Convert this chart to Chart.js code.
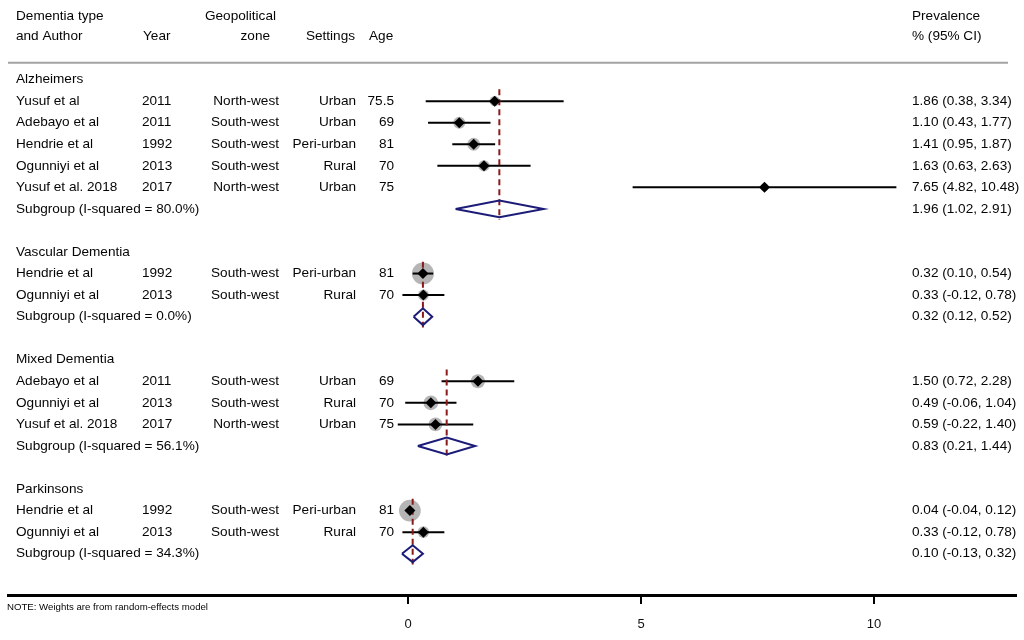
<!DOCTYPE html>
<html>
<head>
<meta charset="utf-8">
<title>Prevalence of dementia types</title>
<script src="https://cdn.jsdelivr.net/npm/chart.js"></script>
<style>
  html, body { margin: 0; padding: 0; background: #fff; }
  canvas { display: block; }
</style>
</head>
<body>
<canvas id="forestPlot" width="1024" height="640"></canvas>
<script>
// subgroups
const groupNames = ['Alzheimers', 'Vascular Dementia', 'Mixed Dementia', 'Parkinsons'];
const subgroupI2 = [80.0, 0.0, 56.1, 34.3];
const subgroupEst = [1.96, 0.32, 0.83, 0.10];
const subgroupLow = [1.02, 0.12, 0.21, -0.13];
const subgroupHigh = [2.91, 0.52, 1.44, 0.32];

// studies, in plot order
const studyGroup = [0, 0, 0, 0, 0, 1, 1, 2, 2, 2, 3, 3];
const authors = ['Yusuf et al', 'Adebayo et al', 'Hendrie et al', 'Ogunniyi et al', 'Yusuf et al. 2018',
                 'Hendrie et al', 'Ogunniyi et al',
                 'Adebayo et al', 'Ogunniyi et al', 'Yusuf et al. 2018',
                 'Hendrie et al', 'Ogunniyi et al'];
const years = ['2011', '2011', '1992', '2013', '2017', '1992', '2013', '2011', '2013', '2017', '1992', '2013'];
const zones = ['North-west', 'South-west', 'South-west', 'South-west', 'North-west',
               'South-west', 'South-west',
               'South-west', 'South-west', 'North-west',
               'South-west', 'South-west'];
const settings = ['Urban', 'Urban', 'Peri-urban', 'Rural', 'Urban',
                  'Peri-urban', 'Rural',
                  'Urban', 'Rural', 'Urban',
                  'Peri-urban', 'Rural'];
const ages = ['75.5', '69', '81', '70', '75', '81', '70', '69', '70', '75', '81', '70'];
const prevalence = [1.86, 1.10, 1.41, 1.63, 7.65, 0.32, 0.33, 1.50, 0.49, 0.59, 0.04, 0.33];
const ciLow = [0.38, 0.43, 0.95, 0.63, 4.82, 0.10, -0.12, 0.72, -0.06, -0.22, -0.04, -0.12];
const ciHigh = [3.34, 1.77, 1.87, 2.63, 10.48, 0.54, 0.78, 2.28, 1.04, 1.40, 0.12, 0.78];
const weights = [18, 24, 27, 21, 10, 80, 20, 33, 36, 31, 78, 22];

const xTicks = [0, 5, 10];

const FONT = '"Liberation Sans", Arial, sans-serif';

// row index for every line of the table
let headRow = [], studyRow = [], subRow = [];
let r = 0;
groupNames.forEach(function(g, gi){
    headRow.push(r++);
    studyGroup.forEach(function(sg, si){
        if(sg == gi) studyRow[si] = r++;
    });
    subRow.push(r);
    r += 2;
});

function fmt(v){ return v.toFixed(2); }
function ciText(e, lo, hi){ return fmt(e) + ' (' + fmt(lo) + ', ' + fmt(hi) + ')'; }

let datasets = [];

prevalence.forEach(function(p, i){
    datasets.push({
        data: [{x: ciLow[i], y: studyRow[i]}, {x: ciHigh[i], y: studyRow[i]}],
        showLine: true, borderColor: '#000', borderWidth: 2, pointRadius: 0, order: 4
    });
});

datasets.push({
    data: prevalence.map(function(p, i){ return {x: p, y: studyRow[i]}; }),
    pointStyle: 'circle',
    pointRadius: weights.map(function(w){ return 1.23 * Math.sqrt(w); }),
    backgroundColor: '#b5b5b5', borderWidth: 0, order: 6
});

datasets.push({
    data: prevalence.map(function(p, i){ return {x: p, y: studyRow[i]}; }),
    pointStyle: 'rectRot', pointRadius: 5.5,
    backgroundColor: '#000', borderWidth: 0, order: 2
});

groupNames.forEach(function(g, gi){
    let y = subRow[gi];
    datasets.push({
        data: [
            {x: subgroupLow[gi], y: y},
            {x: subgroupEst[gi], y: y - 0.39},
            {x: subgroupHigh[gi], y: y},
            {x: subgroupEst[gi], y: y + 0.39},
            {x: subgroupLow[gi], y: y}
        ],
        showLine: true, borderColor: '#1c1c78', borderWidth: 2, pointRadius: 0, order: 1
    });
    datasets.push({
        data: [{x: subgroupEst[gi], y: headRow[gi] + 0.45}, {x: subgroupEst[gi], y: y + 0.5}],
        showLine: true, borderColor: '#8b1a1a', borderWidth: 2, borderDash: [6, 4],
        pointRadius: 0, order: 3
    });
});

const tablePlugin = {
    id: 'tableText',
    afterDraw: function(chart){
        const ctx = chart.ctx;
        const ys = chart.scales.y;
        function put(t, x, row, align){
            ctx.textAlign = align || 'left';
            ctx.fillText(t, x, ys.getPixelForValue(row));
        }
        ctx.save();
        ctx.fillStyle = '#050505';
        ctx.textBaseline = 'middle';
        ctx.font = '13.6px ' + FONT;

        put('Dementia type', 16, -2.94);
        put('and Author', 16, -2.01);
        put('Year', 143, -2.01);
        put('Geopolitical', 276, -2.94, 'right');
        put('zone', 270, -2.01, 'right');
        put('Settings', 355, -2.01, 'right');
        put('Age', 369, -2.01);
        put('Prevalence', 912, -2.94);
        put('% (95% CI)', 912, -2.01);

        let sepY = ys.getPixelForValue(-0.78);
        ctx.strokeStyle = '#a3a3a3';
        ctx.lineWidth = 2;
        ctx.beginPath();
        ctx.moveTo(8, sepY);
        ctx.lineTo(1008, sepY);
        ctx.stroke();

        groupNames.forEach(function(g, gi){
            put(g, 16, headRow[gi]);
            put('Subgroup (I-squared = ' + subgroupI2[gi].toFixed(1) + '%)', 16, subRow[gi]);
            put(ciText(subgroupEst[gi], subgroupLow[gi], subgroupHigh[gi]), 912, subRow[gi]);
        });
        authors.forEach(function(a, i){
            let row = studyRow[i];
            put(a, 16, row);
            put(years[i], 142, row);
            put(zones[i], 279, row, 'right');
            put(settings[i], 356, row, 'right');
            put(ages[i], 394, row, 'right');
            put(ciText(prevalence[i], ciLow[i], ciHigh[i]), 912, row);
        });

        // small condensed footnote
        let note = 'NOTE: Weights are from random-effects model';
        ctx.font = '9px ' + FONT;
        ctx.textAlign = 'left';
        let w = ctx.measureText(note).width;
        ctx.translate(7, 608);
        ctx.scale(201 / w, 1);
        ctx.fillText(note, 0, 0);
        ctx.restore();
    }
};

new Chart('forestPlot', {
    type: 'scatter',
    data: { datasets: datasets },
    options: {
        responsive: false,
        animation: false,
        devicePixelRatio: 1,
        events: [],
        layout: { autoPadding: false, padding: { left: 8, right: 8, top: 0, bottom: 0 } },
        plugins: { legend: { display: false }, tooltip: { enabled: false } },
        scales: {
            x: {
                type: 'linear', position: 'bottom',
                min: -8.584, max: 13.047,
                afterFit: function(s){ s.height = 45; },
                afterBuildTicks: function(s){
                    s.ticks = xTicks.map(function(v){ return {value: v}; });
                },
                grid: { drawOnChartArea: false, drawTicks: true, tickLength: 9, color: '#000', lineWidth: 2 },
                border: { display: true, color: '#000', width: 3 },
                ticks: { color: '#111', font: { family: FONT, size: 13 }, padding: 13, maxRotation: 0, autoSkip: false }
            },
            y: {
                type: 'linear', display: false, reverse: true,
                min: -3.694, max: 23.917
            }
        }
    },
    plugins: [tablePlugin]
});
</script>
</body>
</html>
